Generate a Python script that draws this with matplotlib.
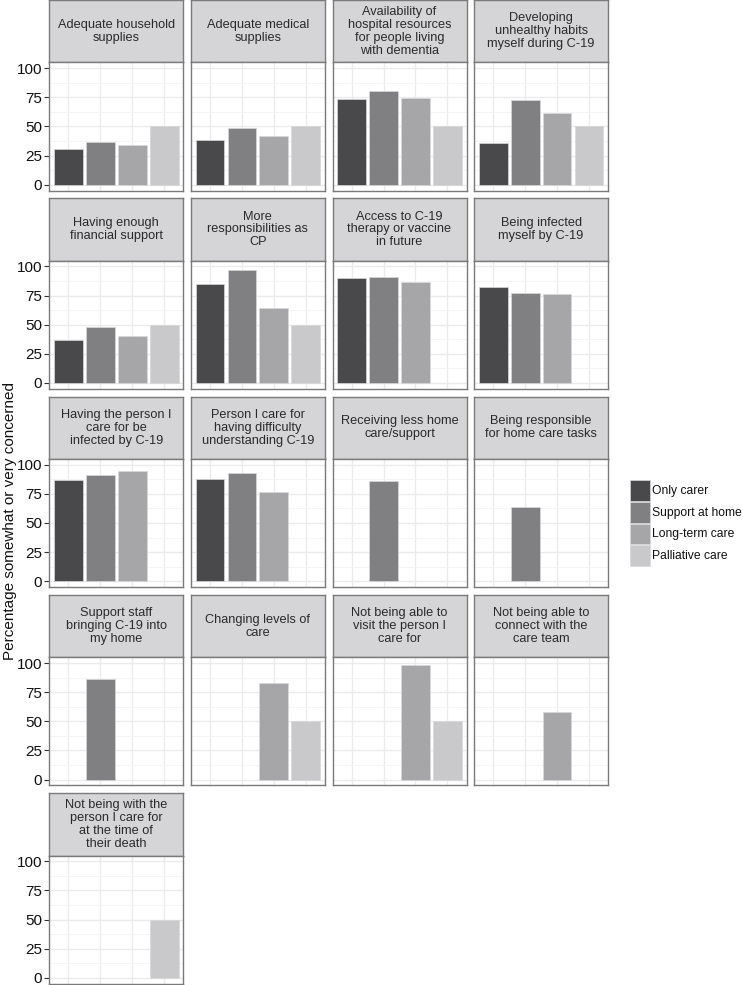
import numpy as np
import matplotlib
matplotlib.use("Agg")
import matplotlib.pyplot as plt
from matplotlib.patches import Rectangle

plt.rcParams['font.family'] = ['Liberation Sans', 'DejaVu Sans']

groups = ['Only carer', 'Support at home', 'Long-term care', 'Palliative care']
colors = ['#49494b', '#808083', '#a6a6a8', '#c9c9cb']

titles = [
    'Adequate household\nsupplies',
    'Adequate medical\nsupplies',
    'Availability of\nhospital resources\nfor people living\nwith dementia',
    'Developing\nunhealthy habits\nmyself during C-19',
    'Having enough\nfinancial support',
    'More\nresponsibilities as\nCP',
    'Access to C-19\ntherapy or vaccine\nin future',
    'Being infected\nmyself by C-19',
    'Having the person I\ncare for be\ninfected by C-19',
    'Person I care for\nhaving difficulty\nunderstanding C-19',
    'Receiving less home\ncare/support',
    'Being responsible\nfor home care tasks',
    'Support staff\nbringing C-19 into\nmy home',
    'Changing levels of\ncare',
    'Not being able to\nvisit the person I\ncare for',
    'Not being able to\nconnect with the\ncare team',
    'Not being with the\nperson I care for\nat the time of\ntheir death',
]

nan = np.nan
# percent per group: Only carer, Support at home, Long-term care, Palliative care
only_carer = [31, 38.5, 73.5, 36, 37, 85, 90, 82, 87, 88, nan, nan, nan, nan, nan, nan, nan]
support_home = [37, 48.5, 80, 73, 48, 97, 91, 77, 91, 93, 86, 64, 86, nan, nan, nan, nan]
long_term = [34, 41.5, 74.5, 61.5, 40.5, 64, 87, 76, 95, 77, nan, nan, nan, 83, 98, 58, nan]
palliative = [50, 50, 50, 50, 50, 50, nan, nan, nan, nan, nan, nan, nan, 50, 50, nan, 50]
series = [only_carer, support_home, long_term, palliative]

W, H = 743, 985
fig = plt.figure(figsize=(W / 100, H / 100), dpi=100)

def fx(px):
    return px / W

def fy(px):
    return 1 - px / H

col_left = 49.3
col_w = 134.0
col_pitch = 141.6
row_pitch = 198.3
strip_h = 62.3
panel_h = 128.2
border = '#7a7a7a'

for i, title in enumerate(titles):
    r, c = divmod(i, 4)
    left = col_left + c * col_pitch
    top = r * row_pitch
    ptop = top + strip_h
    pbot = ptop + panel_h

    # strip
    sax = fig.add_axes([fx(left), fy(ptop), col_w / W, strip_h / H])
    sax.set_facecolor('#d5d5d7')
    sax.set_xticks([])
    sax.set_yticks([])
    for s in sax.spines.values():
        s.set_color(border)
        s.set_linewidth(1.0)
    sax.text(0.5, 0.5, title, ha='center', va='center', fontsize=9.2,
             color='#2a2a2a', linespacing=1.1, transform=sax.transAxes)

    ax = fig.add_axes([fx(left), fy(pbot), col_w / W, panel_h / H])
    ax.set_xlim(0.4, 4.6)
    ax.set_ylim(-5, 105)
    ax.set_yticks([0, 25, 50, 75, 100])
    ax.set_yticks([12.5, 37.5, 62.5, 87.5], minor=True)
    ax.set_xticks([1, 2, 3, 4])
    ax.grid(True, which='major', color='#ebebeb', linewidth=1.0)
    ax.grid(True, which='minor', axis='y', color='#f4f4f4', linewidth=0.6)
    ax.set_axisbelow(True)
    for j in range(4):
        v = series[j][i]
        if not np.isnan(v):
            ax.bar(j + 1, v, width=0.9, color=colors[j], edgecolor='#d8d8d8',
                   linewidth=0.5)
    for s in ax.spines.values():
        s.set_color(border)
        s.set_linewidth(1.0)
    ax.tick_params(axis='x', length=0, labelbottom=False)
    ax.tick_params(axis='y', which='minor', length=0)
    if c == 0:
        ax.tick_params(axis='y', which='major', length=3.5, color='#333333',
                       labelsize=11, labelcolor='#111111', pad=1.5)
    else:
        ax.tick_params(axis='y', which='major', length=0, labelleft=False)

fig.text(fx(10), fy(521.5), 'Percentage somewhat or very concerned', rotation=90,
         ha='center', va='center', fontsize=11.0, color='#111111')

# legend
key_top = 480
key_h = 21.8
for j, g in enumerate(groups):
    y0 = key_top + j * key_h
    fig.patches.append(Rectangle((fx(630), fy(y0 + key_h - 1)), 20 / W, (key_h - 1) / H,
                                 transform=fig.transFigure, facecolor=colors[j],
                                 edgecolor='#d8d8d8', linewidth=0.5))
    fig.text(fx(651.5), fy(y0 + key_h / 2), g, ha='left', va='center',
             fontsize=8.7, color='#111111')

fig.savefig('out.png', dpi=100)
